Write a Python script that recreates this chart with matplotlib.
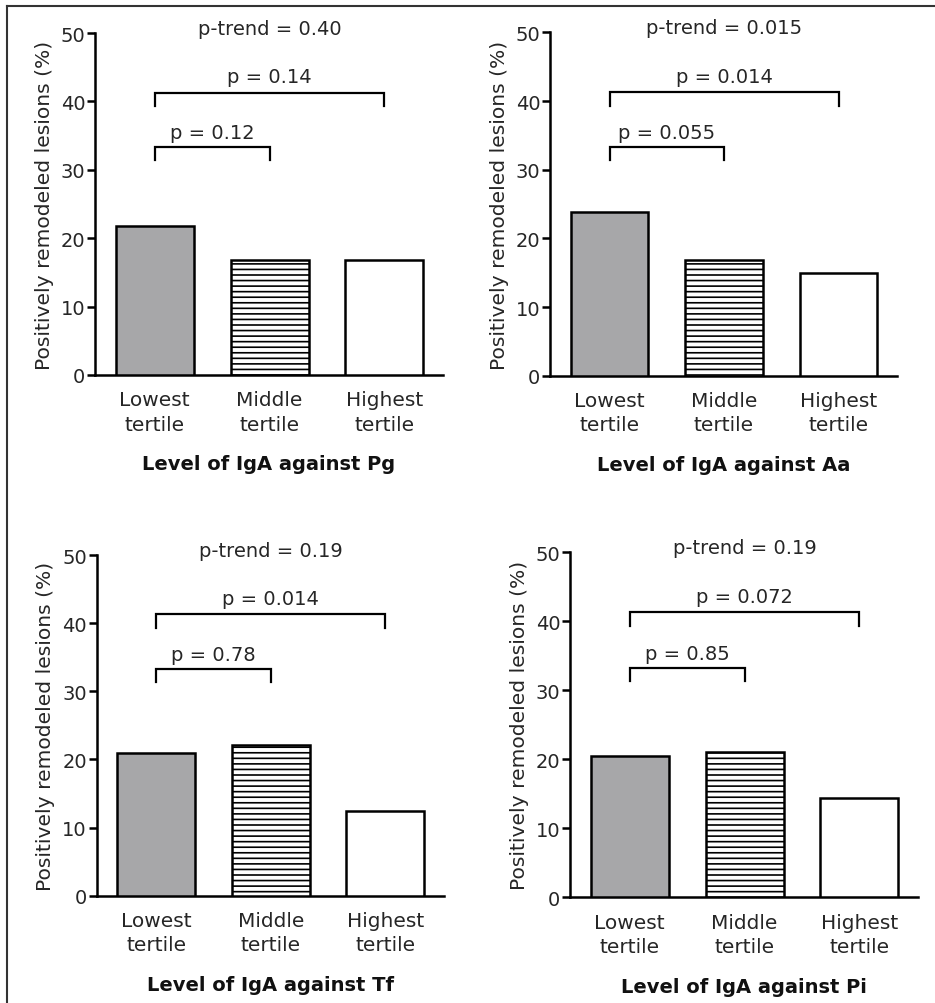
import matplotlib
matplotlib.use("Agg")
import matplotlib.pyplot as plt
from matplotlib.lines import Line2D

plt.rcParams['font.family'] = ['DejaVu Sans']
plt.rcParams['hatch.linewidth'] = 1.2

# ---- data ----
categories = ['Lowest\ntertile', 'Middle\ntertile', 'Highest\ntertile']
antigens = ['Pg', 'Aa', 'Tf', 'Pi']
pg_values = [21.8, 16.8, 16.8]
aa_values = [23.9, 16.8, 14.9]
tf_values = [20.9, 22.1, 12.5]
pi_values = [20.5, 21.0, 14.4]
p_trend = ['0.40', '0.015', '0.19', '0.19']
p_low_vs_high = ['0.14', '0.014', '0.014', '0.072']
p_low_vs_mid = ['0.12', '0.055', '0.78', '0.85']
y_ticks = [0, 10, 20, 30, 40, 50]

values = [pg_values, aa_values, tf_values, pi_values]

# ---- style ----
fills = ['#a7a7a9', 'white', 'white']
hatches = [None, '---', None]
rects = [
    [0.1016, 0.6255, 0.3722, 0.3406],
    [0.5882, 0.6248, 0.3711, 0.3419],
    [0.1034, 0.1069, 0.3711, 0.3391],
    [0.6096, 0.1053, 0.3722, 0.3436],
]
txt = '#262626'
LW = 1.8

fig = plt.figure(figsize=(9.35, 10.04), dpi=100)

for i, rect in enumerate(rects):
    ax = fig.add_axes(rect)
    x = list(range(len(categories)))
    bars = ax.bar(x, values[i], width=0.68, color=fills, edgecolor='black',
                  linewidth=LW, zorder=3)
    for b, h in zip(bars, hatches):
        if h:
            b.set_hatch(h)
    ax.set_xlim(-0.52, 2.51)
    ax.set_ylim(0, 50)
    ax.set_yticks(y_ticks)
    ax.set_xticks(x)
    ax.set_xticklabels(categories, fontsize=14.5, color=txt, linespacing=1.35)
    ax.tick_params(axis='x', length=0, pad=11)
    ax.tick_params(axis='y', length=6, width=LW, pad=1, labelsize=14,
                   labelcolor=txt)
    for s in ['top', 'right']:
        ax.spines[s].set_visible(False)
    for s in ['left', 'bottom']:
        ax.spines[s].set_linewidth(LW)
    ax.set_ylabel('Positively remodeled lesions (%)', fontsize=14.6,
                  color=txt, labelpad=5)
    ax.set_xlabel('Level of IgA against ' + antigens[i], fontsize=14,
                  fontweight='bold', color='#111111', labelpad=15)

    # significance brackets
    ax.plot([0, 0, 2, 2], [39.3, 41.3, 41.3, 39.3], color='black', lw=1.6,
            clip_on=False, solid_joinstyle='miter')
    ax.plot([0, 0, 1, 1], [31.4, 33.3, 33.3, 31.4], color='black', lw=1.6,
            clip_on=False, solid_joinstyle='miter')
    ax.text(1, 42.8, 'p = ' + p_low_vs_high[i], ha='center', va='baseline',
            fontsize=14, color=txt)
    ax.text(0.5, 34.6, 'p = ' + p_low_vs_mid[i], ha='center', va='baseline',
            fontsize=14, color=txt)
    ax.text(1, 49.9, 'p-trend = ' + p_trend[i], ha='center', va='baseline',
            fontsize=14, color=txt)

# outer frame (left and top edges visible)
fig.add_artist(Line2D([7 / 935, 7 / 935], [0, 1 - 7 / 1004], transform=fig.transFigure,
                      color='#333333', lw=1.5))
fig.add_artist(Line2D([7 / 935, 1], [1 - 7 / 1004, 1 - 7 / 1004], transform=fig.transFigure,
                      color='#333333', lw=1.5))

fig.savefig('out.png', dpi=100)
